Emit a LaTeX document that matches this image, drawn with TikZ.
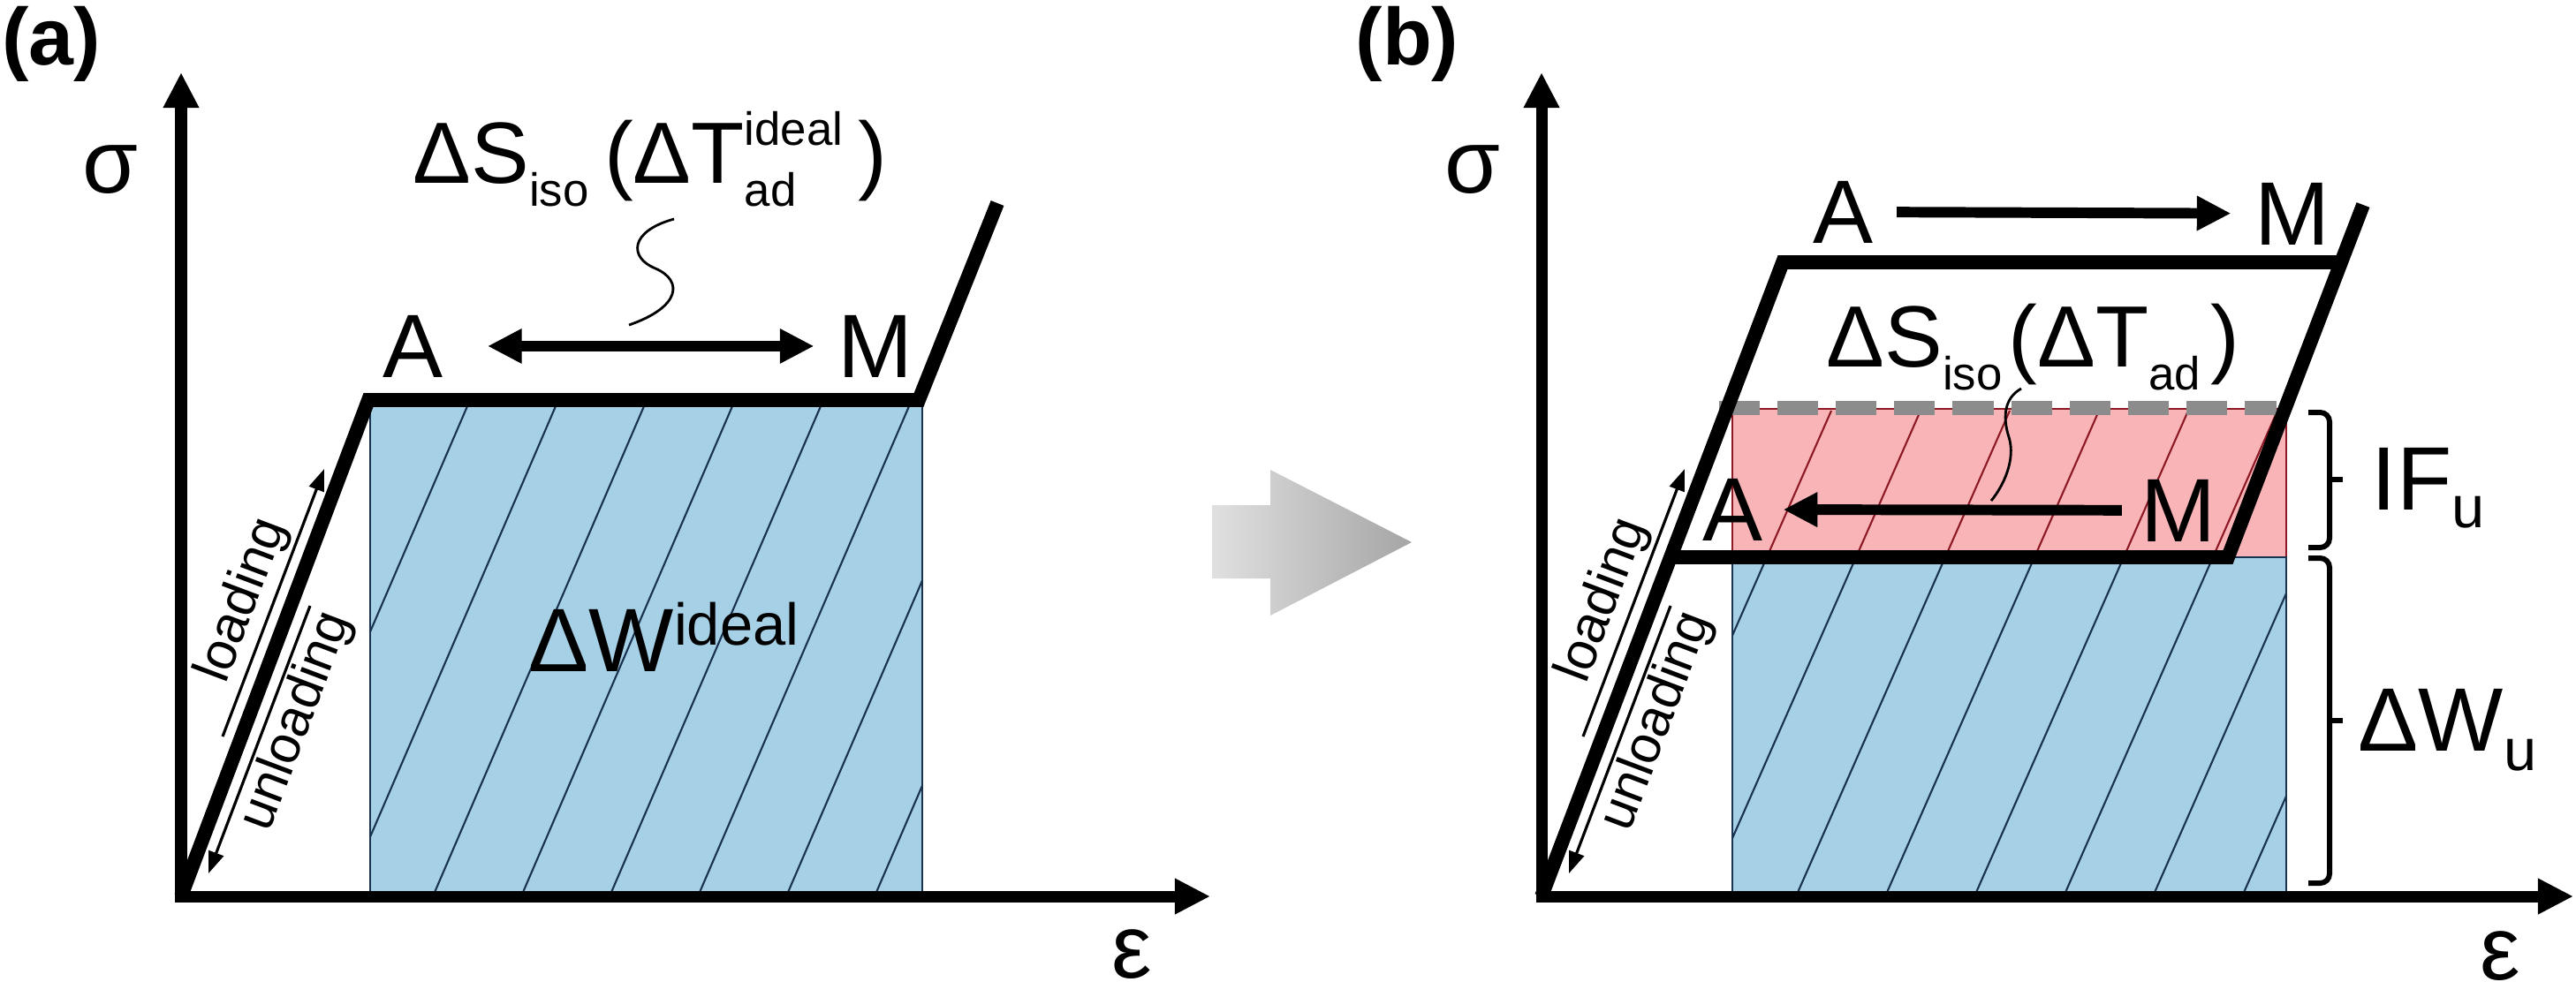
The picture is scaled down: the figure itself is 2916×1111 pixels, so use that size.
\documentclass[tikz,border=0pt]{standalone}
\usepackage{fontspec}
\setmainfont{Liberation Sans}
\usetikzlibrary{arrows.meta}
\definecolor{fillblue}{RGB}{166,208,230}
\definecolor{fillred}{RGB}{249,180,184}
\definecolor{hatchblue}{RGB}{25,50,80}
\definecolor{hatchred}{RGB}{140,25,35}
\definecolor{dashgray}{RGB}{140,140,140}
\definecolor{arrowl}{RGB}{224,224,224}
\definecolor{arrowr}{RGB}{165,165,165}
\newcommand{\lowtx}[3]{\raisebox{-#2}{\fontsize{#1}{#1}\selectfont #3}}
\newcommand{\hightx}[3]{\raisebox{#2}{\fontsize{#1}{#1}\selectfont #3}}

\begin{document}
\begin{tikzpicture}[x=0.01cm, y=-0.01cm,
    axis/.style={line width=3.7pt, {Triangle[length=11.4pt,width=10.8pt]}-{Triangle[length=11.4pt,width=10.8pt]}},
    curve/.style={line width=4.5pt},
    trans/.style={line width=3.4pt},
    lbl/.style={inner sep=0pt, font=\fontsize{29}{31}\selectfont},
    eqlbl/.style={inner sep=0pt, font=\fontsize{28}{30}\selectfont},
    panel/.style={inner sep=0pt, font=\fontsize{26}{28}\selectfont\bfseries},
    slant/.style={inner sep=0pt, rotate=69.3, font=\fontsize{17}{19}\selectfont},
    hint/.style={line width=0.9pt, -{Triangle[length=7pt,width=5pt]}},
    hatchb/.style={line width=0.6pt, hatchblue},
    hatchr/.style={line width=0.6pt, hatchred},
    squig/.style={line width=0.8pt},
    bracket/.style={line width=1.7pt, rounded corners=3pt}]
    \useasboundingbox (0,0) rectangle (2916,1111);

    % panel (a)
    \coordinate (Oa) at (205,1015);
    \coordinate (ya) at (205,82);
    \coordinate (xa) at (1370,1015);
    \coordinate (Pa1) at (417,453);
    \coordinate (Pa2) at (1040,453);
    \coordinate (Pa3) at (1129,230);

    \fill[fillblue] (419,453) rectangle (1044,1015);
    \begin{scope}
        \clip (419,453) rectangle (1044,1015);
        \draw[hatchb] (532,453) -- (290,1015);
        \draw[hatchb] (632,453) -- (390,1015);
        \draw[hatchb] (732,453) -- (490,1015);
        \draw[hatchb] (832,453) -- (590,1015);
        \draw[hatchb] (932,453) -- (690,1015);
        \draw[hatchb] (1032,453) -- (790,1015);
        \draw[hatchb] (1132,453) -- (890,1015);
        \draw[hatchb] (1232,453) -- (990,1015);
    \end{scope}
    \draw[line width=0.5pt, hatchblue] (419,453) rectangle (1044,1015);

    \draw[axis] (ya) -- (Oa) -- (xa);
    \draw[curve] (Oa) -- (Pa1) -- (Pa2) -- (Pa3);

    \node[panel] (pa) at (58,50) {(a)};
    \node[lbl] (siga) at (125,192) {σ};
    \node[lbl] (epsa) at (1281,1081) {ε};
    \node[lbl, anchor=base] (Aa) at (468,427) {A};
    \node[lbl, anchor=base] (Ma) at (991,427) {M};
    \draw[trans, {Triangle[length=11pt,width=10.5pt]}-{Triangle[length=11pt,width=10.5pt]},
        shorten <=14pt, shorten >=7.5pt] (Aa) -- (Ma);
    \node[eqlbl, anchor=base west] (dSa) at (467,207)
        {ΔS\lowtx{15}{7.4pt}{iso}\hspace{5pt}(ΔT\rlap{\lowtx{15}{7.4pt}{ad}}\hightx{15}{12pt}{ideal}\hspace{5pt})};
    \coordinate (sqa1) at (763,248);
    \coordinate (sqa2) at (712,368);
    \draw[squig] (sqa1) .. controls (712,262) and (712,292) .. (742,304)
        .. controls (774,318) and (770,348) .. (sqa2);
    \node[lbl, anchor=base west] (dWa) at (598,760) {ΔW\hightx{19}{8.5pt}{ideal}};

    \coordinate (la1) at (252,834);
    \coordinate (la2) at (367,531);
    \coordinate (ua1) at (351,686);
    \coordinate (ua2) at (236,989);
    \draw[hint] (la1) -- (la2);
    \draw[hint] (ua1) -- (ua2);
    \node[slant] (loada) at (275,680) {loading};
    \node[slant] (unloada) at (336,817) {unloading};

    % transition arrow
    \shade[left color=arrowl, right color=arrowr] (1372,572) -- (1438,572) -- (1438,532)
        -- (1598,614) -- (1438,697) -- (1438,655) -- (1372,655) -- cycle;

    % panel (b)
    \coordinate (Ob) at (1745,1015);
    \coordinate (yb) at (1745,82);
    \coordinate (xb) at (2913,1015);
    \coordinate (Pb1) at (2018,297);
    \coordinate (Pb2) at (2650,297);
    \coordinate (Pb3) at (2675,232);
    \coordinate (Pb4) at (2522,631);
    \coordinate (Pb5) at (1891,631);

    \fill[fillred] (1961,463) rectangle (2588,631);
    \fill[fillblue] (1961,631) rectangle (2588,1015);
    \begin{scope}
        \clip (1961,463) rectangle (2588,631);
        \draw[hatchr] (2073,465) -- (1831,1015);
        \draw[hatchr] (2174,465) -- (1932,1015);
        \draw[hatchr] (2275,465) -- (2033,1015);
        \draw[hatchr] (2376,465) -- (2134,1015);
        \draw[hatchr] (2477,465) -- (2235,1015);
        \draw[hatchr] (2578,465) -- (2336,1015);
        \draw[hatchr] (2679,465) -- (2437,1015);
    \end{scope}
    \begin{scope}
        \clip (1961,631) rectangle (2588,1015);
        \draw[hatchb] (2073,465) -- (1831,1015);
        \draw[hatchb] (2174,465) -- (1932,1015);
        \draw[hatchb] (2275,465) -- (2033,1015);
        \draw[hatchb] (2376,465) -- (2134,1015);
        \draw[hatchb] (2477,465) -- (2235,1015);
        \draw[hatchb] (2578,465) -- (2336,1015);
        \draw[hatchb] (2679,465) -- (2437,1015);
        \draw[hatchb] (2780,465) -- (2538,1015);
    \end{scope}
    \draw[line width=0.5pt, hatchred] (1961,463) rectangle (2588,631);
    \draw[line width=0.5pt, hatchblue] (1961,631) rectangle (2588,1015);
    \draw[line width=4.3pt, dashgray, dash pattern=on 13.1pt off 5.7pt] (1946,462) -- (2577,462);

    \draw[axis] (yb) -- (Ob) -- (xb);
    \draw[curve] (Ob) -- (Pb1) -- (Pb2);
    \draw[curve] (Pb3) -- (Pb4) -- (Pb5);

    \node[panel] (pb) at (1593,50) {(b)};
    \node[lbl] (sigb) at (1667,192) {σ};
    \node[lbl] (epsb) at (2830,1083) {ε};
    \node[lbl, anchor=base] (Ab) at (2086,275) {A};
    \node[lbl, anchor=base] (Mb) at (2595,277) {M};
    \draw[trans, -{Triangle[length=11pt,width=10.5pt]}, shorten <=7.5pt, shorten >=7.5pt] (Ab) -- (Mb);
    \node[lbl, anchor=base] (Ab2) at (1961,612) {A};
    \node[lbl, anchor=base] (Mb2) at (2466,613) {M};
    \draw[trans, -{Triangle[length=11pt,width=10.5pt]}, shorten <=6pt, shorten >=6.5pt] (Mb2) -- (Ab2);
    \node[eqlbl, anchor=base west] (dSb) at (2067,415)
        {ΔS\lowtx{15}{7.4pt}{iso}\hspace{2pt}(ΔT\lowtx{15}{7.4pt}{ad}\hspace{3.4pt})};
    \coordinate (sqb1) at (2288,440);
    \coordinate (sqb2) at (2254,567);
    \draw[squig] (sqb1) .. controls (2270,450) and (2266,470) .. (2274,495)
        .. controls (2282,520) and (2268,550) .. (sqb2);

    \coordinate (lb1) at (1792,834);
    \coordinate (lb2) at (1907,531);
    \coordinate (ub1) at (1891,686);
    \coordinate (ub2) at (1776,989);
    \draw[hint] (lb1) -- (lb2);
    \draw[hint] (ub1) -- (ub2);
    \node[slant] (loadb) at (1815,680) {loading};
    \node[slant] (unloadb) at (1876,817) {unloading};

    % brackets
    \coordinate (IFtop) at (2613,467);
    \coordinate (IFbot) at (2613,620);
    \coordinate (Wtop) at (2613,632);
    \coordinate (Wbot) at (2613,1000);
    \draw[bracket] (IFtop) -- (2637,467) -- (2637,620) -- (IFbot);
    \draw[bracket] (2637,543) -- (2652,543);
    \draw[bracket] (Wtop) -- (2637,632) -- (2637,1000) -- (Wbot);
    \draw[bracket] (2637,816) -- (2652,816);
    \node[lbl, anchor=base west] (IFu) at (2684,577) {IF\lowtx{19}{5.7pt}{u}};
    \node[lbl, anchor=base west] (dWu) at (2669,850) {ΔW\lowtx{19}{6.3pt}{u}};
\end{tikzpicture}
\end{document}
